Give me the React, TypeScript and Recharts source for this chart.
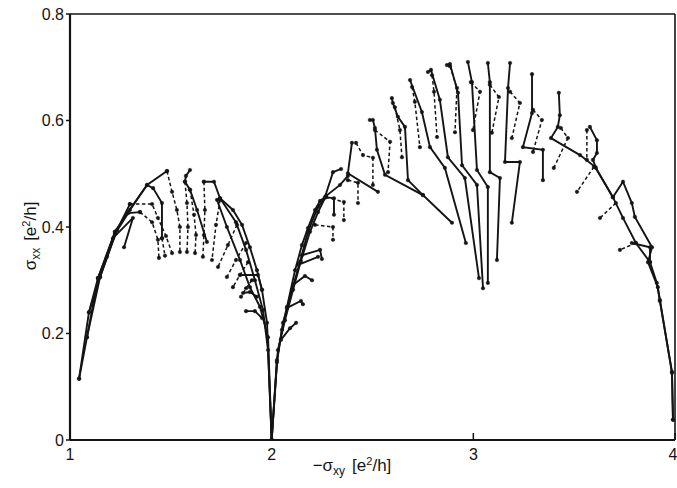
import React from 'react';
import { LineChart, Line, XAxis, YAxis, Label, ReferenceLine } from 'recharts';

type Pt = [number, number];

const xTicks = [1, 2, 3, 4];
const yTicks = [0, 0.2, 0.4, 0.6, 0.8];

// left dome (sigma_xy 1..2), solid flow lines
const leftSolid: Pt[][] = [
  [[1.045, 0.115], [1.084, 0.193], [1.139, 0.304], [1.183, 0.344], [1.223, 0.391], [1.288, 0.428], [1.382, 0.479], [1.412, 0.473], [1.456, 0.445], [1.456, 0.379]],
  [[1.045, 0.115], [1.094, 0.24], [1.139, 0.304], [1.223, 0.391], [1.297, 0.432], [1.382, 0.479], [1.481, 0.505]],
  [[1.084, 0.193], [1.149, 0.306], [1.233, 0.394], [1.297, 0.443]],
  [[1.094, 0.24], [1.149, 0.306], [1.223, 0.387], [1.288, 0.426], [1.347, 0.428]],
  [[1.139, 0.304], [1.213, 0.379], [1.312, 0.417], [1.268, 0.362]],
  [[1.595, 0.507], [1.575, 0.496], [1.57, 0.485], [1.595, 0.47], [1.63, 0.432], [1.679, 0.372]],
  [[1.664, 0.485], [1.714, 0.485], [1.744, 0.454], [1.808, 0.432], [1.853, 0.404], [1.892, 0.362], [1.927, 0.319], [1.952, 0.282], [1.977, 0.22], [2.0, 0]],
  [[1.729, 0.451], [1.778, 0.4], [1.843, 0.338], [1.892, 0.287], [1.942, 0.25], [1.982, 0.193], [2.0, 0]],
  [[1.744, 0.454], [1.823, 0.409], [1.873, 0.357], [1.917, 0.3], [1.957, 0.244], [1.982, 0.169], [2.0, 0]],
  [[1.843, 0.31], [1.932, 0.31], [1.952, 0.282]],
  [[1.858, 0.276], [1.892, 0.278], [1.927, 0.269]],
  [[1.873, 0.242], [1.917, 0.242], [1.952, 0.229]],
];

// left dome, dashed continuations
const leftDashed: Pt[][] = [
  [[1.456, 0.379], [1.471, 0.346]],
  [[1.481, 0.505], [1.506, 0.466], [1.53, 0.432], [1.545, 0.4], [1.545, 0.353]],
  [[1.297, 0.443], [1.407, 0.443], [1.436, 0.417], [1.476, 0.383], [1.506, 0.351]],
  [[1.347, 0.428], [1.407, 0.409], [1.436, 0.376], [1.441, 0.342]],
  [[1.57, 0.485], [1.58, 0.445], [1.585, 0.4], [1.58, 0.353]],
  [[1.595, 0.47], [1.615, 0.423], [1.625, 0.385], [1.62, 0.351]],
  [[1.664, 0.485], [1.669, 0.432], [1.664, 0.385], [1.659, 0.344]],
  [[1.744, 0.451], [1.724, 0.404], [1.704, 0.338]],
  [[1.828, 0.404], [1.783, 0.366], [1.734, 0.325]],
  [[1.873, 0.37], [1.823, 0.338], [1.778, 0.306]],
  [[1.883, 0.334], [1.843, 0.31], [1.808, 0.287]],
  [[1.902, 0.3], [1.873, 0.285], [1.848, 0.269]],
];

// centre dome (sigma_xy 2..3.4), solid flow lines
const centreSolid: Pt[][] = [
  [[2.0, 0], [2.026, 0.15], [2.051, 0.207], [2.076, 0.25], [2.116, 0.319], [2.15, 0.366], [2.18, 0.398], [2.215, 0.432], [2.24, 0.449], [2.264, 0.456], [2.304, 0.503], [2.344, 0.509]],
  [[2.0, 0], [2.026, 0.146], [2.056, 0.22], [2.101, 0.282], [2.14, 0.334], [2.18, 0.391], [2.23, 0.438], [2.269, 0.456], [2.309, 0.454], [2.309, 0.423]],
  [[2.0, 0], [2.031, 0.169], [2.066, 0.225], [2.106, 0.282], [2.145, 0.336], [2.19, 0.391], [2.23, 0.428], [2.269, 0.458], [2.339, 0.479], [2.378, 0.496]],
  [[2.398, 0.558], [2.378, 0.501], [2.527, 0.466]],
  [[2.046, 0.188], [2.091, 0.21], [2.121, 0.22]],
  [[2.076, 0.248], [2.145, 0.261], [2.155, 0.255]],
  [[2.106, 0.291], [2.165, 0.308], [2.2, 0.3]],
  [[2.131, 0.329], [2.23, 0.344]],
  [[2.15, 0.347], [2.24, 0.357], [2.249, 0.34]],
  [[2.487, 0.601], [2.502, 0.601], [2.512, 0.586], [2.522, 0.545], [2.562, 0.498], [2.75, 0.46], [2.894, 0.408]],
  [[2.596, 0.642], [2.601, 0.633], [2.626, 0.607], [2.661, 0.588], [2.676, 0.488], [2.75, 0.46]],
  [[2.686, 0.676], [2.745, 0.616], [2.785, 0.55], [2.859, 0.511], [2.963, 0.37]],
  [[2.775, 0.691], [2.79, 0.695], [2.834, 0.639], [2.874, 0.531], [2.958, 0.492], [3.028, 0.304]],
  [[2.869, 0.704], [2.884, 0.706], [2.924, 0.652], [2.944, 0.516], [3.018, 0.479], [3.048, 0.285]],
  [[2.973, 0.71], [2.993, 0.672], [3.018, 0.507], [3.072, 0.475], [3.072, 0.295]],
  [[3.072, 0.708], [3.082, 0.672], [3.082, 0.503], [3.132, 0.492], [3.117, 0.338]],
  [[3.182, 0.708], [3.172, 0.661], [3.157, 0.522], [3.231, 0.522], [3.191, 0.408]],
  [[3.291, 0.687], [3.291, 0.614], [3.246, 0.55], [3.345, 0.545], [3.345, 0.488]],
];

// centre dome, dashed continuations
const centreDashed: Pt[][] = [
  [[2.269, 0.456], [2.358, 0.447], [2.358, 0.413]],
  [[2.215, 0.404], [2.304, 0.4], [2.304, 0.376]],
  [[2.418, 0.558], [2.453, 0.535], [2.502, 0.53], [2.502, 0.479]],
  [[2.378, 0.488], [2.428, 0.483], [2.428, 0.445]],
  [[2.512, 0.582], [2.587, 0.56], [2.577, 0.503]],
  [[2.611, 0.625], [2.636, 0.582], [2.646, 0.531]],
  [[2.696, 0.663], [2.71, 0.635], [2.735, 0.55]],
  [[2.795, 0.685], [2.805, 0.654], [2.82, 0.569]],
  [[2.884, 0.702], [2.919, 0.661], [2.909, 0.578]],
  [[2.988, 0.672], [3.033, 0.654], [2.998, 0.582]],
  [[3.082, 0.667], [3.127, 0.644], [3.092, 0.577]],
  [[3.182, 0.654], [3.231, 0.633], [3.191, 0.567]],
  [[3.296, 0.62], [3.34, 0.601], [3.296, 0.541]],
];

// right flank (sigma_xy 3.4..4), solid
const rightSolid: Pt[][] = [
  [[3.424, 0.652], [3.429, 0.61], [3.419, 0.588], [3.385, 0.567], [3.529, 0.535], [3.603, 0.513], [3.692, 0.456], [3.742, 0.417], [3.806, 0.37], [3.876, 0.334], [3.91, 0.295], [3.925, 0.261], [3.985, 0.128], [3.99, 0.038]],
  [[3.578, 0.588], [3.613, 0.563], [3.613, 0.539], [3.593, 0.526], [3.608, 0.511], [3.692, 0.456], [3.742, 0.485], [3.786, 0.445], [3.801, 0.419], [3.886, 0.362], [3.866, 0.334], [3.915, 0.287], [3.925, 0.263], [3.985, 0.126], [3.99, 0.038]],
  [[3.786, 0.37], [3.876, 0.362], [3.876, 0.334]],
];

// right flank, dashed
const rightDashed: Pt[][] = [
  [[3.434, 0.586], [3.469, 0.567], [3.399, 0.511]],
  [[3.563, 0.582], [3.563, 0.526]],
  [[3.598, 0.513], [3.514, 0.466]],
  [[3.707, 0.445], [3.628, 0.417]],
  [[3.806, 0.37], [3.727, 0.357]],
];

// plot frame limits
const xMax = 4;
const yMax = 0.8;

const INK = '#141414';
const FONT = 'Liberation Sans, Arial, sans-serif';

const toRows = (c: Pt[]) => c.map(([x, y]) => ({ x, y }));

const series = [
  ...leftSolid.map((c) => ({ c, dashed: false })),
  ...centreSolid.map((c) => ({ c, dashed: false })),
  ...rightSolid.map((c) => ({ c, dashed: false })),
  ...leftDashed.map((c) => ({ c, dashed: true })),
  ...centreDashed.map((c) => ({ c, dashed: true })),
  ...rightDashed.map((c) => ({ c, dashed: true })),
];

const yTitle = () => (
  <text x={36} y={236} transform="rotate(-90 36 236)" textAnchor="middle" fontFamily={FONT} fontSize={17} fill={INK}>
    σ<tspan dy={4} fontSize={12}>xx</tspan>
    <tspan dy={-4} dx={7}>[e</tspan>
    <tspan dy={-6} fontSize={11}>2</tspan>
    <tspan dy={6}>/h]</tspan>
  </text>
);

const xTitle = () => (
  <text x={352} y={471} textAnchor="middle" fontFamily={FONT} fontSize={17} fill={INK}>
    −σ<tspan dy={4} fontSize={12}>xy</tspan>
    <tspan dy={-4} dx={7}>[e</tspan>
    <tspan dy={-6} fontSize={11}>2</tspan>
    <tspan dy={6}>/h]</tspan>
  </text>
);

export default function App() {
  return (
    <div style={{ position: 'absolute', left: 0, top: 0, width: 677, height: 488, background: '#fff' }}>
      <LineChart width={677} height={488} margin={{ top: 14, right: 2, bottom: 0, left: 0 }}>
        <XAxis
          type="number"
          dataKey="x"
          domain={[1, 4]}
          ticks={xTicks}
          allowDataOverflow
          height={48}
          tickSize={-7}
          tickMargin={16}
          stroke={INK}
          strokeWidth={2.2}
          tick={{ fill: INK, fontSize: 16, fontFamily: FONT }}
          tickLine={{ stroke: INK, strokeWidth: 1.5 }}
        >
          <Label content={xTitle} />
        </XAxis>
        <YAxis
          type="number"
          domain={[0, 0.8]}
          ticks={yTicks}
          allowDataOverflow
          width={70}
          tickSize={4}
          tickMargin={2}
          tickFormatter={(v: number) => (v === 0 ? '0' : v.toFixed(1))}
          stroke={INK}
          strokeWidth={2.2}
          tick={{ fill: INK, fontSize: 16, fontFamily: FONT }}
          tickLine={{ stroke: INK, strokeWidth: 1.5 }}
        >
          <Label content={yTitle} />
        </YAxis>
        <ReferenceLine y={yMax} stroke={INK} strokeWidth={1.6} ifOverflow="visible" />
        <ReferenceLine x={xMax} stroke={INK} strokeWidth={1.6} ifOverflow="visible" />
        {series.map((s, i) => (
          <Line
            key={'s' + i}
            data={toRows(s.c)}
            dataKey="y"
            type="linear"
            stroke={INK}
            strokeWidth={s.dashed ? 1.5 : 1.9}
            strokeDasharray={s.dashed ? '3.5 2.5' : undefined}
            dot={{ r: 1.8, fill: INK, stroke: INK, strokeWidth: 0.4, strokeDasharray: 'none' }}
            activeDot={false}
            legendType="none"
            isAnimationActive={false}
          />
        ))}
      </LineChart>
    </div>
  );
}
